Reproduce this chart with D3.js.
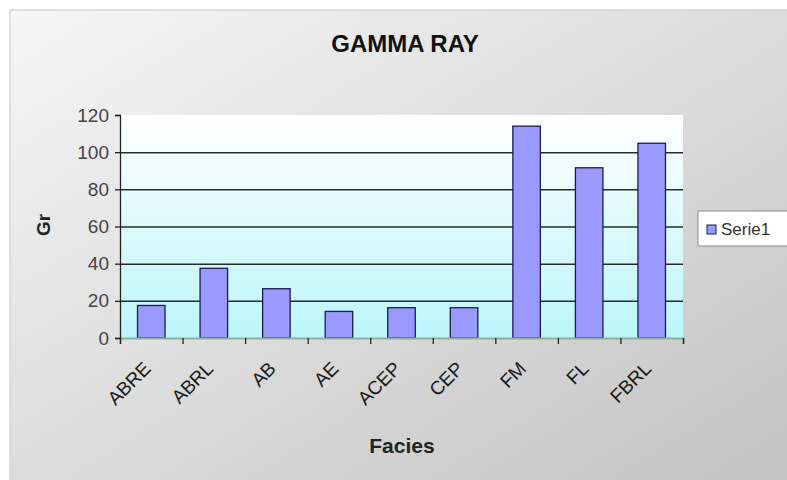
<!DOCTYPE html>
<html>
<head>
<meta charset="utf-8">
<script src="https://cdn.jsdelivr.net/npm/d3@7"></script>
<style>
  body { margin: 0; background: #fff; }
  svg text { font-family: "Liberation Sans", Arial, sans-serif; }
</style>
</head>
<body>
<svg id="chart" width="787" height="480"></svg>
<script>
// data
var facies = ["ABRE", "ABRL", "AB", "AE", "ACEP", "CEP", "FM", "FL", "FBRL"];
var gammaRay = [17.5, 37.5, 26.5, 14.3, 16.3, 16.3, 114, 91.6, 104.8];
var yTicks = [0, 20, 40, 60, 80, 100, 120];
var seriesName = "Serie1";

var width = 787, height = 480;
var plot = { left: 120, right: 683, top: 115, bottom: 338 };

var svg = d3.select("#chart");
var defs = svg.append("defs");

// outer chart background gradient
var bg = defs.append("linearGradient")
    .attr("id", "bgGrad")
    .attr("x1", 0).attr("y1", 0).attr("x2", 1).attr("y2", 1);
bg.append("stop").attr("offset", "0%").attr("stop-color", "#f6f6f6");
bg.append("stop").attr("offset", "100%").attr("stop-color", "#c2c2c2");

// plot area gradient (white -> light cyan)
var pg = defs.append("linearGradient")
    .attr("id", "plotGrad")
    .attr("x1", 0).attr("y1", 0).attr("x2", 0).attr("y2", 1);
pg.append("stop").attr("offset", "0%").attr("stop-color", "#ffffff");
pg.append("stop").attr("offset", "100%").attr("stop-color", "#bbf6fa");

svg.append("rect")
    .attr("x", 10).attr("y", 10)
    .attr("width", width).attr("height", height)
    .attr("fill", "url(#bgGrad)")
    .attr("stroke", "#c8c8c8");

// scales
var x = d3.scaleBand()
    .domain(facies)
    .range([plot.left, plot.right])
    .paddingInner(0.56)
    .paddingOuter(0.28);

var xEdge = d3.scaleLinear()
    .domain([0, facies.length])
    .range([plot.left, plot.right]);

var y = d3.scaleLinear()
    .domain([0, 120])
    .range([plot.bottom, plot.top]);

// plot area
svg.append("rect")
    .attr("x", plot.left).attr("y", plot.top)
    .attr("width", plot.right - plot.left)
    .attr("height", plot.bottom - plot.top)
    .attr("fill", "url(#plotGrad)");

// gridlines
svg.append("g")
    .attr("class", "grid")
    .attr("transform", "translate(" + plot.left + ",0)")
    .call(d3.axisLeft(y)
        .tickValues(yTicks.filter(function(d) { return d > 0 && d < 120; }))
        .tickSize(-(plot.right - plot.left))
        .tickFormat(""))
    .call(function(g) { g.select(".domain").remove(); })
    .selectAll("line")
    .attr("stroke", "#2a2a2a")
    .attr("stroke-width", 1.5);

// bars
svg.append("g")
    .selectAll("rect")
    .data(gammaRay)
    .enter()
    .append("rect")
    .attr("x", function(d, i) { return x(facies[i]); })
    .attr("y", function(d) { return y(d); })
    .attr("width", x.bandwidth())
    .attr("height", function(d) { return y(0) - y(d); })
    .attr("fill", "#9999ff")
    .attr("stroke", "#1c1c4c")
    .attr("stroke-width", 1.3);

// x axis: ticks on category edges
var xAxisG = svg.append("g")
    .attr("transform", "translate(0," + plot.bottom + ")")
    .call(d3.axisBottom(xEdge)
        .tickValues(d3.range(0, facies.length + 1))
        .tickSize(6)
        .tickFormat(""));
xAxisG.select(".domain").attr("stroke", "#8fae9e").attr("stroke-width", 2);
xAxisG.selectAll(".tick line").attr("stroke", "#222").attr("stroke-width", 1.3);

// x labels, rotated
svg.append("g")
    .selectAll("text")
    .data(facies)
    .enter()
    .append("text")
    .attr("transform", function(d) {
        return "translate(" + (x(d) + x.bandwidth() / 2 - 4) + "," + (plot.bottom + 27) + ") rotate(-45)";
    })
    .attr("text-anchor", "end")
    .attr("dy", "0.35em")
    .attr("font-size", 19)
    .attr("fill", "#1a1a1a")
    .text(function(d) { return d; });

// y axis
var yAxisG = svg.append("g")
    .attr("transform", "translate(" + plot.left + ",0)")
    .call(d3.axisLeft(y)
        .tickValues(yTicks)
        .tickSize(5)
        .tickPadding(6));
yAxisG.select(".domain").attr("stroke", "#222").attr("stroke-width", 1.3);
yAxisG.selectAll(".tick line").attr("stroke", "#222").attr("stroke-width", 1.3);
yAxisG.selectAll(".tick text")
    .attr("font-size", 19)
    .attr("fill", "#444")
    .style("font-family", "'Liberation Sans', Arial, sans-serif");

// title
svg.append("text")
    .attr("x", 405).attr("y", 52)
    .attr("text-anchor", "middle")
    .attr("font-size", 24)
    .attr("font-weight", "bold")
    .attr("fill", "#111")
    .text("GAMMA RAY");

// axis titles
svg.append("text")
    .attr("x", 402).attr("y", 453)
    .attr("text-anchor", "middle")
    .attr("font-size", 21)
    .attr("font-weight", "bold")
    .attr("fill", "#222")
    .text("Facies");

svg.append("text")
    .attr("transform", "translate(50,225) rotate(-90)")
    .attr("text-anchor", "middle")
    .attr("font-size", 19)
    .attr("font-weight", "bold")
    .attr("fill", "#222")
    .text("Gr");

// legend
var legend = svg.append("g").attr("transform", "translate(698,211)");
legend.append("rect")
    .attr("width", 100).attr("height", 35)
    .attr("fill", "#fff")
    .attr("stroke", "#8a8a8a");
legend.append("rect")
    .attr("x", 9).attr("y", 14)
    .attr("width", 9).attr("height", 9)
    .attr("fill", "#9999ff")
    .attr("stroke", "#1c1c4c");
legend.append("text")
    .attr("x", 23).attr("y", 24)
    .attr("font-size", 17)
    .attr("fill", "#333")
    .text(seriesName);
</script>
</body>
</html>
